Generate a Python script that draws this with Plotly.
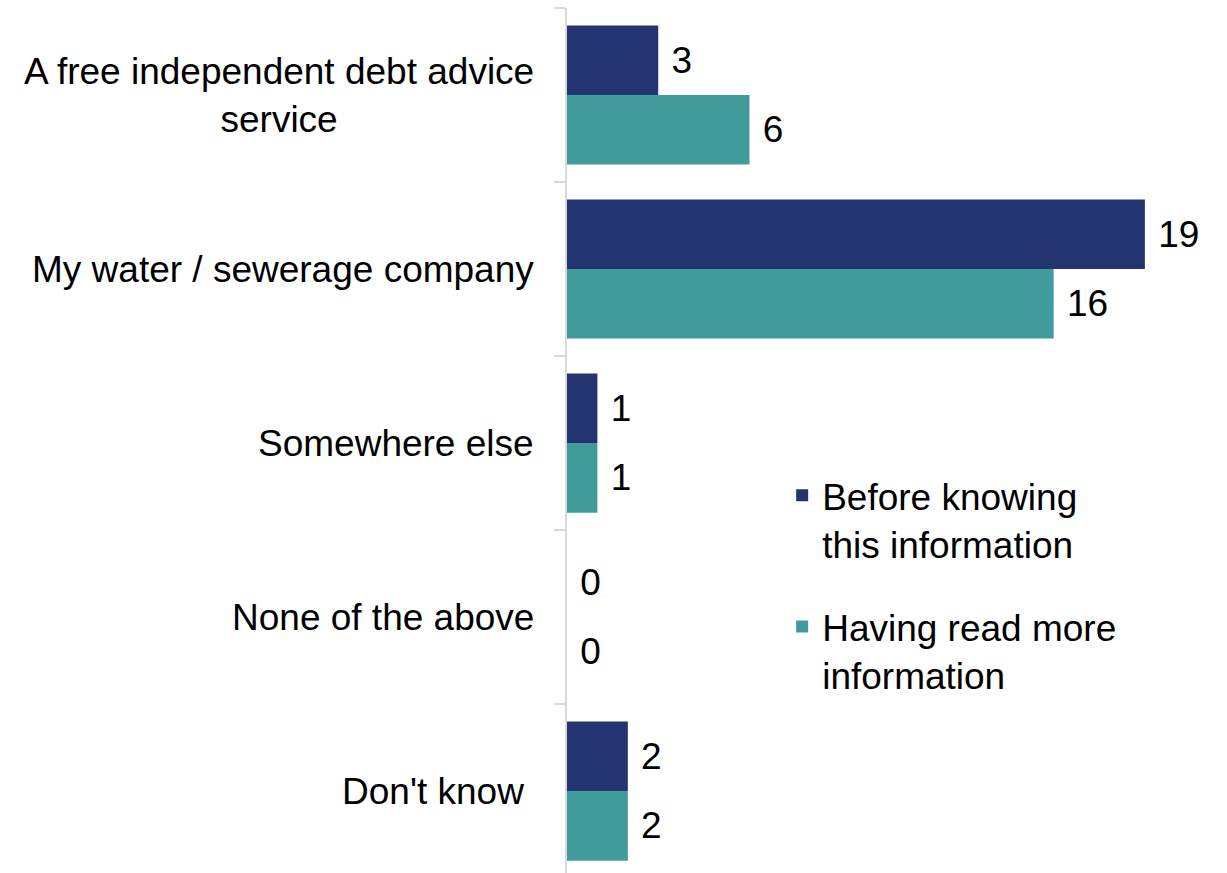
import plotly.graph_objects as go

categories = [
    "A free independent debt advice<br>service",
    "My water / sewerage company",
    "Somewhere else",
    "None of the above",
    "Don't know\u00a0",
]
before_values = [3, 19, 1, 0, 2]
after_values = [6, 16, 1, 0, 2]
series_names = ["Before knowing<br>this information", "Having read more<br>information"]

NAVY = "#243470"
TEAL = "#429B9B"
FONT = "Liberation Sans, Arial, sans-serif"
AXIS_GREY = "#d9d9d9"

fig = go.Figure()
for name, vals, color, grp in [
    (series_names[0], before_values, NAVY, "g1"),
    (series_names[1], after_values, TEAL, "g2"),
]:
    fig.add_trace(go.Bar(
        y=categories,
        x=vals,
        orientation="h",
        name=name,
        legendgroup=grp,
        marker=dict(color=color, line=dict(width=0)),
        text=[f"\u00a0{v}" for v in vals],
        textposition="outside",
        textfont=dict(family=FONT, size=37, color="#000000"),
        cliponaxis=False,
    ))

# category labels drawn as centred multi-line text to the left of the axis
for cat in categories:
    fig.add_annotation(
        x=0, xref="paper", y=cat, yref="y",
        text=cat, showarrow=False,
        xanchor="right", align="center",
        xshift=-31,
        font=dict(family=FONT, size=37, color="#000000"),
    )

fig.update_layout(
    width=1227, height=873,
    margin=dict(l=567, r=0, t=8, b=0),
    paper_bgcolor="white", plot_bgcolor="white",
    barmode="group", bargap=0.2, bargroupgap=0,
    font=dict(family=FONT, size=37, color="#000000"),
    showlegend=True,
    legend=dict(
        x=0.326, y=0.472, xanchor="left", yanchor="top",
        traceorder="grouped", tracegroupgap=32,
        valign="top",
        font=dict(family=FONT, size=37, color="#000000"),
        bgcolor="rgba(0,0,0,0)",
    ),
    xaxis=dict(
        range=[0, 21.7], showgrid=False, zeroline=False,
        showticklabels=False, showline=False, ticks="",
    ),
    yaxis=dict(
        type="category", range=[4.471, -0.5],
        showgrid=False, zeroline=False,
        showticklabels=False,
        showline=True, linecolor=AXIS_GREY, linewidth=2,
        ticks="outside", tickson="boundaries", ticklen=11,
        tickcolor=AXIS_GREY, tickwidth=2,
    ),
)

fig.write_html("out.html")
